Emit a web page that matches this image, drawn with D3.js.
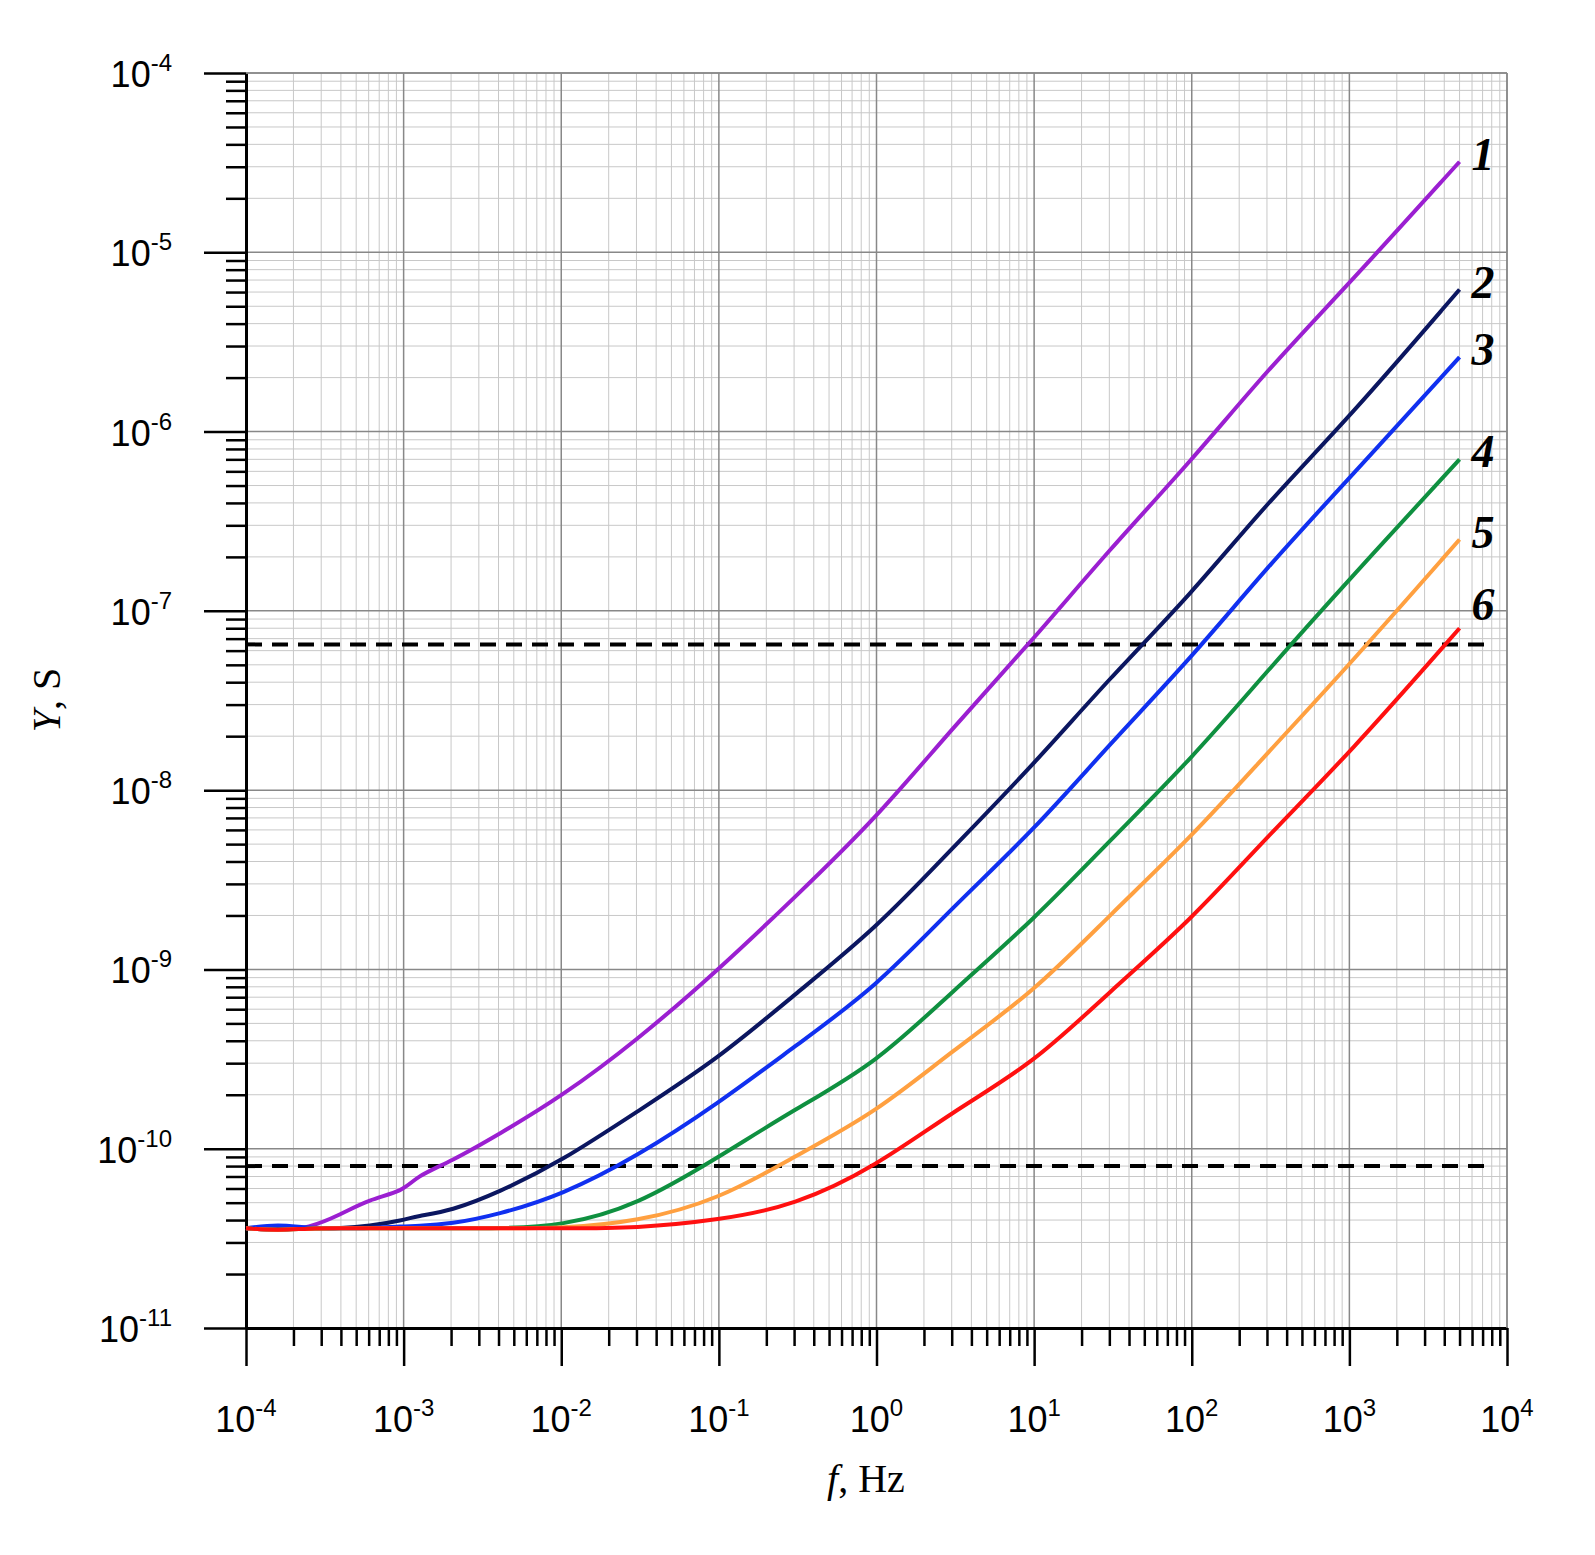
<!DOCTYPE html><html><head><meta charset="utf-8">
<script src="https://cdn.jsdelivr.net/npm/d3@7"></script>
<style>body{margin:0;background:#fff}</style></head><body>
<svg id="c" width="1595" height="1555"></svg>
<script>
const xTicks=[-4,-3,-2,-1,0,1,2,3,4];
const yTicks=[-4,-5,-6,-7,-8,-9,-10,-11];
const freqs=[1e-4,1.6e-4,2.5e-4,4e-4,6e-4,1e-3,1.2e-3,2e-3,4e-3,1e-2,3e-2,1e-1,3e-1,1,3,10,30,100,300,1000,5000];
const s1=[3.6e-11,3.5e-11,3.6e-11,4.3e-11,5.2e-11,5.8e-11,7e-11,8.5e-11,1.2e-10,1.95e-10,4e-10,1e-9,2.5e-9,7e-9,2.2e-8,7e-8,2.2e-7,6.9e-7,2.2e-6,6.7e-6,3.2e-5];
const s2=[3.6e-11,3.6e-11,3.6e-11,3.6e-11,3.7e-11,4e-11,4.2e-11,4.5e-11,5.7e-11,8.5e-11,1.6e-10,3.2e-10,7.2e-10,1.7e-9,4.7e-9,1.4e-8,4.2e-8,1.25e-7,4e-7,1.2e-6,6.2e-6];
const s3=[3.6e-11,3.8e-11,3.6e-11,3.6e-11,3.6e-11,3.7e-11,3.7e-11,3.8e-11,4.3e-11,5.5e-11,9e-11,1.8e-10,3.7e-10,8e-10,2.2e-9,6e-9,1.8e-8,5.5e-8,1.75e-7,5.5e-7,2.6e-6];
const s4=[3.6e-11,3.5e-11,3.6e-11,3.6e-11,3.6e-11,3.6e-11,3.6e-11,3.6e-11,3.6e-11,3.7e-11,4.8e-11,9e-11,1.65e-10,3e-10,7.5e-10,1.9e-9,5.2e-9,1.5e-8,4.6e-8,1.5e-7,7e-7];
const s5=[3.6e-11,3.5e-11,3.6e-11,3.6e-11,3.6e-11,3.6e-11,3.6e-11,3.6e-11,3.6e-11,3.6e-11,3.9e-11,5.2e-11,9e-11,1.6e-10,3.5e-10,7.5e-10,2e-9,5.5e-9,1.6e-8,5e-8,2.5e-7];
const s6=[3.6e-11,3.5e-11,3.6e-11,3.6e-11,3.6e-11,3.6e-11,3.6e-11,3.6e-11,3.6e-11,3.6e-11,3.6e-11,4e-11,4.8e-11,8e-11,1.6e-10,3e-10,7.5e-10,1.9e-9,5.5e-9,1.6e-8,8e-8];
const series=[s1,s2,s3,s4,s5,s6];
const colors=["#9b1fd1","#0b1660","#1030f0","#0f9040","#ffa040","#ff1010"];
const labels=["1","2","3","4","5","6"];
const dashLevels=[6.5e-8,8e-11];

const svg=d3.select("#c");
const x=d3.scaleLog().domain([1e-4,1e4]).range([246,1507]);
const y=d3.scaleLog().domain([1e-11,1e-4]).range([1328,73]);
const g=svg.append("g");
for(let e=-4;e<4;e++)for(let m=2;m<10;m++){const v=m*10**e;g.append("line").attr("x1",x(v)).attr("x2",x(v)).attr("y1",73).attr("y2",1328).attr("stroke","#c8c8c8").attr("stroke-width",1);}
for(let e=-11;e<-4;e++)for(let m=2;m<10;m++){const v=m*10**e;g.append("line").attr("y1",y(v)).attr("y2",y(v)).attr("x1",246).attr("x2",1507).attr("stroke","#c8c8c8").attr("stroke-width",1);}
xTicks.forEach(e=>g.append("line").attr("x1",x(10**e)).attr("x2",x(10**e)).attr("y1",73).attr("y2",1328).attr("stroke","#888").attr("stroke-width",1.5));
yTicks.forEach(e=>g.append("line").attr("y1",y(10**e)).attr("y2",y(10**e)).attr("x1",246).attr("x2",1507).attr("stroke","#888").attr("stroke-width",1.5));
const ax=d3.axisBottom(x).tickValues(xTicks.flatMap(e=>e<4?d3.range(1,10).map(m=>m*10**e):[10**e])).tickSize(0).tickFormat("");
const xa=svg.append("g").attr("transform","translate(0,1328)").call(ax);
xa.select(".domain").attr("stroke","#000").attr("stroke-width",3);
xa.selectAll(".tick line").attr("stroke","#000").attr("stroke-width",2.5).attr("y2",d=>Math.abs(Math.log10(d)-Math.round(Math.log10(d)))<1e-9?38:18);
const ay=d3.axisLeft(y).tickValues(d3.range(-11,-3).flatMap(e=>e<-4?d3.range(1,10).map(m=>m*10**e):[10**e])).tickSize(0).tickFormat("");
const ya=svg.append("g").attr("transform","translate(246,0)").call(ay);
ya.select(".domain").attr("stroke","#000").attr("stroke-width",3);
ya.selectAll(".tick line").attr("stroke","#000").attr("stroke-width",2.5).attr("x2",d=>Math.abs(Math.log10(d)-Math.round(Math.log10(d)))<1e-9?-42:-20);
svg.append("line").attr("x1",1507).attr("x2",1507).attr("y1",73).attr("y2",1328).attr("stroke","#888").attr("stroke-width",1.5);
svg.append("line").attr("x1",246).attr("x2",1507).attr("y1",73).attr("y2",73).attr("stroke","#888").attr("stroke-width",1.5);
xTicks.forEach(e=>{const t=svg.append("text").attr("x",x(10**e)).attr("y",1432).attr("text-anchor","middle").attr("font-family","Liberation Sans, Arial").attr("font-size",36);
 t.append("tspan").text("10");t.append("tspan").attr("dy",-16).attr("font-size",24).text(e);});
yTicks.forEach(e=>{const t=svg.append("text").attr("x",172).attr("y",y(10**e)+14).attr("text-anchor","end").attr("font-family","Liberation Sans, Arial").attr("font-size",36);
 t.append("tspan").text("10");t.append("tspan").attr("dy",-16).attr("font-size",24).text(e);});
svg.append("text").attr("x",866).attr("y",1492).attr("text-anchor","middle").attr("font-family","Liberation Serif, Times New Roman").attr("font-size",40)
 .html('<tspan font-style="italic">f</tspan>, Hz');
svg.append("text").attr("transform","translate(60,700) rotate(-90)").attr("text-anchor","middle").attr("font-family","Liberation Serif, Times New Roman").attr("font-size",40)
 .html('<tspan font-style="italic">Y</tspan>, S');
dashLevels.forEach(v=>svg.append("line").attr("x1",246).attr("x2",1490).attr("y1",y(v)).attr("y2",y(v)).attr("stroke","#000").attr("stroke-width",4).attr("stroke-dasharray","16,10"));
const line=d3.line().x((d,i)=>x(freqs[i])).y(d=>y(d)).curve(d3.curveBasis);
series.forEach((s,k)=>{
 svg.append("path").attr("d",line(s)).attr("fill","none").attr("stroke",colors[k]).attr("stroke-width",4);
 svg.append("text").attr("x",x(5000)+12).attr("y",y(s[s.length-1])+(k==5?-8:8)).attr("font-family","Liberation Serif, Times New Roman").attr("font-weight","bold").attr("font-style","italic").attr("font-size",46).text(labels[k]);
});
</script></body></html>
